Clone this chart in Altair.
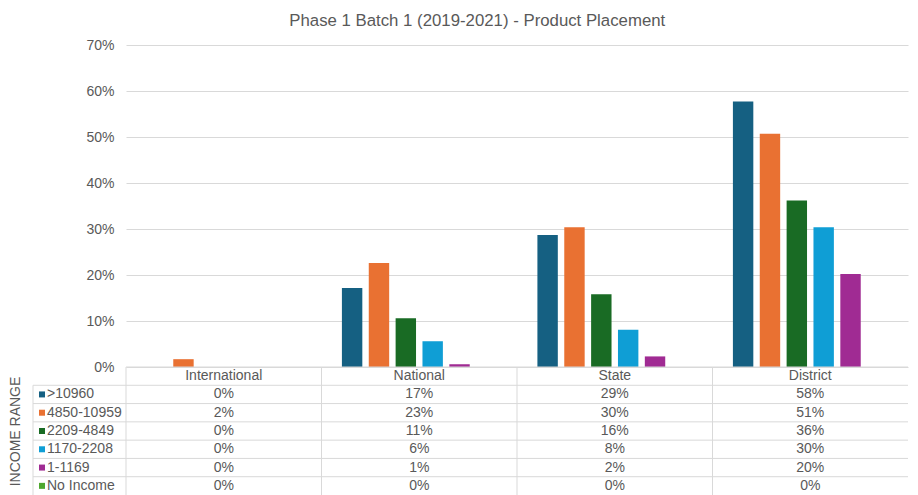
import altair as alt
import pandas as pd

categories = ["International", "National", "State", "District"]
series = [">10960", "4850-10959", "2209-4849", "1170-2208", "1-1169", "No Income"]
colors = ["#156082", "#E97132", "#196B24", "#0F9ED5", "#A02B93", "#4EA72E"]

# percent values per series, in category order
v_gt10960 = [0.0, 17.2, 28.7, 57.7]
v_4850 = [1.7, 22.6, 30.4, 50.7]
v_2209 = [0.0, 10.6, 15.8, 36.2]
v_1170 = [0.0, 5.6, 8.1, 30.4]
v_1 = [0.0, 0.6, 2.3, 20.2]
v_none = [0.0, 0.0, 0.0, 0.0]
values = [v_gt10960, v_4850, v_2209, v_1170, v_1, v_none]

title_text = "Phase 1 Batch 1 (2019-2021) - Product Placement"
y_title = "INCOME RANGE"
y_ticks = [0, 0.1, 0.2, 0.3, 0.4, 0.5, 0.6, 0.7]

FONT = "Liberation Sans"
GRAY = "#595959"
LINE = "#d9d9d9"
W = 782
H_PLOT = 322
H_TAB = 128

rows = []
for s, vals in zip(series, values):
    for c, v in zip(categories, vals):
        rows.append({"category": c, "series": s, "value": v / 100.0})
df = pd.DataFrame(rows)

xscale = alt.Scale(domain=categories, paddingInner=0, paddingOuter=0)

bars = alt.Chart(df).mark_bar().encode(
    x=alt.X("category:N", sort=categories, scale=xscale, axis=None),
    xOffset=alt.XOffset("series:N", sort=series,
                        scale=alt.Scale(domain=series, paddingInner=0.24, paddingOuter=0.76)),
    y=alt.Y("value:Q", scale=alt.Scale(domain=[0, 0.7], nice=False),
            axis=alt.Axis(format=".0%", values=y_ticks, grid=True, gridColor=LINE,
                          domain=False, ticks=False, labelPadding=12, labelFontSize=14,
                          labelColor=GRAY, labelFont=FONT, title=None)),
    color=alt.Color("series:N", sort=series,
                    scale=alt.Scale(domain=series, range=colors), legend=None),
).properties(width=W, height=H_PLOT)

# ---- data table below ----
row_order = ["hdr"] + series
yscale = alt.Scale(domain=row_order, paddingInner=0, paddingOuter=0)
yaxis = alt.Axis(labels=False, ticks=False, domain=False, grid=False, title=y_title,
                 titlePadding=104, titleFontSize=14, titleFontWeight="normal",
                 titleColor=GRAY, titleFont=FONT)

ser_df = pd.DataFrame({"row": series, "series": series})
hdr_df = pd.DataFrame({"row": ["hdr"] * len(categories), "category": categories})
cat_df = pd.DataFrame({"category": categories})
val_df = df.rename(columns={"series": "row"})
first_df = pd.DataFrame({"row": [series[0]]})
top_df = pd.DataFrame({"row": ["hdr"]})

Yrow = lambda **kw: alt.Y("row:N", sort=row_order, scale=yscale, axis=yaxis, **kw)

hlines = alt.Chart(ser_df).mark_rule(color=LINE, strokeWidth=1).encode(
    y=Yrow(bandPosition=0), x=alt.value(-93), x2=alt.value(W))
topline = alt.Chart(top_df).mark_rule(color=LINE, strokeWidth=1).encode(
    y=Yrow(bandPosition=0), x=alt.value(0), x2=alt.value(W))
vlines = alt.Chart(cat_df).mark_rule(color=LINE, strokeWidth=1).encode(
    x=alt.X("category:N", sort=categories, scale=xscale, axis=None, bandPosition=0),
    y=alt.value(0), y2=alt.value(H_TAB))
leftline = alt.Chart(first_df).mark_rule(color=LINE, strokeWidth=1).encode(
    y=Yrow(bandPosition=0), x=alt.value(-93), y2=alt.value(H_TAB))

hdr_text = alt.Chart(hdr_df).mark_text(font=FONT, fontSize=14, color=GRAY).encode(
    x=alt.X("category:N", sort=categories, scale=xscale, axis=None),
    y=Yrow(), text="category:N")
val_text = alt.Chart(val_df).mark_text(font=FONT, fontSize=14, color=GRAY).encode(
    x=alt.X("category:N", sort=categories, scale=xscale, axis=None),
    y=Yrow(), text=alt.Text("value:Q", format=".0%"))
lab_text = alt.Chart(ser_df).mark_text(font=FONT, fontSize=14, color=GRAY, align="left").encode(
    x=alt.value(-79), y=Yrow(), text="series:N")
keys = alt.Chart(ser_df).mark_square(size=36, opacity=1).encode(
    x=alt.value(-84), y=Yrow(),
    color=alt.Color("series:N", sort=series,
                    scale=alt.Scale(domain=series, range=colors), legend=None))

table = alt.layer(hlines, topline, vlines, leftline, hdr_text, val_text, lab_text, keys
                  ).properties(width=W, height=H_TAB)

chart = alt.vconcat(bars, table, spacing=0, bounds="flush").properties(
    title=alt.TitleParams(title_text, fontSize=16.8, font=FONT, color=GRAY,
                          fontWeight="normal", anchor="middle", dx=19, offset=8),
    padding={"left": 0, "top": 5, "right": 0, "bottom": 0},
).configure_view(stroke=None).resolve_scale(color="shared")

chart.save("out.html", embed_options={"renderer": "svg", "actions": False})
